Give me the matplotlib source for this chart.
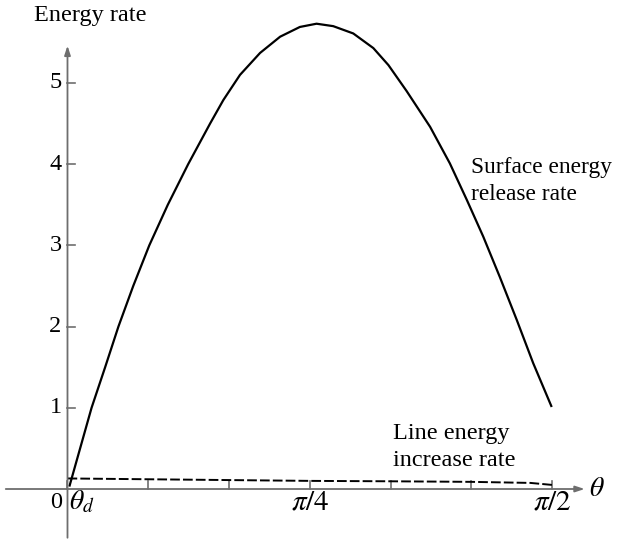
import numpy as np
import matplotlib
matplotlib.use("Agg")
import matplotlib.pyplot as plt

plt.rcParams['font.family'] = ['Liberation Serif', 'DejaVu Serif']
plt.rcParams['mathtext.fontset'] = 'stix'

# Surface energy release rate (solid)
theta_surface = [0.006, 0.078, 0.122, 0.165, 0.213, 0.265, 0.325, 0.391, 0.462, 0.505,
                 0.559, 0.624, 0.689, 0.753, 0.807, 0.861, 0.926, 0.991, 1.040, 1.099,
                 1.175, 1.239, 1.294, 1.347, 1.401, 1.456, 1.509, 1.569]
surface_rate = [0.03, 1.0, 1.5, 2.0, 2.5, 3.0, 3.5, 4.0, 4.5, 4.79,
                5.10, 5.37, 5.57, 5.69, 5.73, 5.70, 5.61, 5.43, 5.22, 4.90,
                4.46, 4.01, 3.56, 3.11, 2.61, 2.08, 1.55, 1.01]

# Line energy increase rate (dashed)
theta_line = [0.0, 0.262, 0.524, 0.785, 1.047, 1.309, 1.50, 1.571]
line_rate = [0.13, 0.12, 0.11, 0.10, 0.095, 0.088, 0.075, 0.05]

yticks = [1, 2, 3, 4, 5]
xtick_pos = [np.pi / 12 * k for k in range(7)]

fig = plt.figure(figsize=(6.17, 5.40), dpi=100)
ax = fig.add_axes([0, 0, 1, 1])
ax.set_xlim(-0.2187, 1.7806)
ax.set_ylim(-0.628, 6.022)
ax.axis('off')

axis_col = '#6e6e6e'
# x axis
ax.annotate('', xy=(1.676, 0), xytext=(-0.200, 0),
            arrowprops=dict(arrowstyle='-|>,head_length=0.55,head_width=0.18',
                            color=axis_col, lw=1.3, shrinkA=0, shrinkB=0))
# y axis
ax.annotate('', xy=(0, 5.46), xytext=(0, -0.60),
            arrowprops=dict(arrowstyle='-|>,head_length=0.55,head_width=0.18',
                            color=axis_col, lw=1.3, shrinkA=0, shrinkB=0))

# ticks (drawn inward): x ticks pointing up, y ticks pointing right
px_to_x = 1.9993 / 617
px_to_y = 6.65 / 540
for xt in xtick_pos:
    ax.plot([xt, xt], [0, 8 * px_to_y], color=axis_col, lw=1.2)
for yt in yticks:
    ax.plot([0, 8 * px_to_x], [yt, yt], color=axis_col, lw=1.2)
    ax.text(-6 * px_to_x, yt, str(yt), ha='right', va='center', fontsize=17.5)

# curves
ax.plot(theta_surface, surface_rate, color='black', lw=1.6, solid_capstyle='butt',
        solid_joinstyle='round')
ax.plot(theta_line, line_rate, color='black', lw=1.4, dashes=(5, 1.6))

# labels
ax.text(-0.2187 + 90 * px_to_x, 6.022 - 15 * px_to_y, 'Energy rate',
        ha='center', va='center', fontsize=17.5)
yl = -(502 - 489) * px_to_y
ax.text(-11 * px_to_x, yl, '0', ha='center', va='center', fontsize=17.5)
ax.text(0.004, yl, r'$\theta_d$', ha='left', va='center', fontsize=20)
ax.text(np.pi / 4, yl, r'$\pi/4$', ha='center', va='center', fontsize=21)
ax.text(np.pi / 2, yl, r'$\pi/2$', ha='center', va='center', fontsize=21)
ax.text(1.69, 0.0, r'$\theta$', ha='left', va='center', fontsize=20)

sx = (471 - 67.5) / 308.6
ax.text(sx, (489 - 168) / 81.2, 'Surface energy', ha='left', va='center', fontsize=16.8)
ax.text(sx, (489 - 195) / 81.2, 'release rate', ha='left', va='center', fontsize=16.8)
lx = (393.3 - 67.5) / 308.6
ax.text(lx, (489 - 433) / 81.2, 'Line energy', ha='left', va='center', fontsize=17.5)
ax.text(lx, (489 - 460) / 81.2, 'increase rate', ha='left', va='center', fontsize=17.5)

fig.savefig('out.png', dpi=100)
